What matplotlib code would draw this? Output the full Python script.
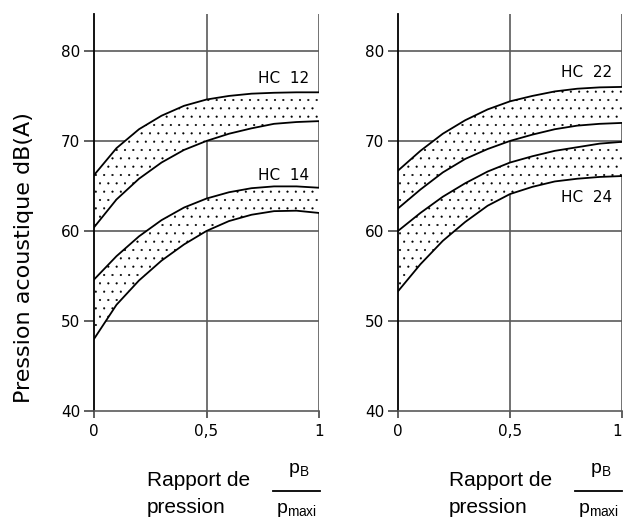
import matplotlib.pyplot as plt
from matplotlib.lines import Line2D

x = [0, 0.1, 0.2, 0.3, 0.4, 0.5, 0.6, 0.7, 0.8, 0.9, 1.0]

hc12_hi = [66.2, 69.2, 71.3, 72.8, 73.9, 74.6, 75.0, 75.25, 75.35, 75.4, 75.4]
hc12_lo = [60.4, 63.5, 65.8, 67.6, 69.0, 70.0, 70.8, 71.4, 71.9, 72.1, 72.2]
hc14_hi = [54.6, 57.2, 59.4, 61.2, 62.6, 63.6, 64.3, 64.75, 64.95, 64.95, 64.8]
hc14_lo = [48.0, 51.8, 54.5, 56.7, 58.5, 60.0, 61.1, 61.8, 62.2, 62.25, 62.0]

hc22_hi = [66.7, 68.9, 70.8, 72.3, 73.5, 74.4, 75.0, 75.5, 75.8, 75.95, 76.0]
hc22_lo = [62.5, 64.6, 66.5, 68.0, 69.1, 70.0, 70.7, 71.3, 71.7, 71.9, 72.0]
hc24_hi = [60.0, 62.0, 63.8, 65.3, 66.6, 67.6, 68.3, 68.9, 69.3, 69.7, 69.9]
hc24_lo = [53.3, 56.3, 58.9, 61.0, 62.8, 64.1, 64.9, 65.5, 65.8, 66.0, 66.1]

left_bands = [("HC  12", hc12_hi, hc12_lo, 76.9), ("HC  14", hc14_hi, hc14_lo, 66.2)]
right_bands = [("HC  22", hc22_hi, hc22_lo, 77.6), ("HC  24", hc24_hi, hc24_lo, 63.7)]

yticks = [40, 50, 60, 70, 80]
xticks = [0, 0.5, 1]
xticklabels = ["0", "0,5", "1"]

W, H = 625, 518
plt.rcParams["hatch.linewidth"] = 0.3
plt.rcParams["hatch.color"] = "black"

fig = plt.figure(figsize=(6.25, 5.18), dpi=100)
grid_col = "#5a5a5a"


def make_axes(left_px, right_px, bands):
    ax = fig.add_axes([left_px / W, 107 / H, (right_px - left_px) / W, 397 / H])
    ax.set_xlim(0, 1)
    ax.set_ylim(40, 84.1)
    for lab, hi, lo, ty in bands:
        ax.fill_between(x, lo, hi, facecolor="white", edgecolor="black",
                        hatch="..", linewidth=0)
        ax.plot(x, hi, color="black", lw=1.3)
        ax.plot(x, lo, color="black", lw=1.3)
        ax.text(0.955, ty, lab, ha="right", va="center", fontsize=11,
                family="DejaVu Sans")
    for v in yticks[1:]:
        ax.axhline(v, color=grid_col, lw=1.2, zorder=0.5)
    for v in xticks[1:]:
        ax.axvline(v, color=grid_col, lw=1.2, zorder=0.5)
    for s in ["top", "right"]:
        ax.spines[s].set_visible(False)
    ax.spines["left"].set_color("black")
    ax.spines["left"].set_linewidth(1.3)
    ax.spines["bottom"].set_color(grid_col)
    ax.spines["bottom"].set_linewidth(1.2)
    ax.set_yticks(yticks)
    ax.set_xticks(xticks)
    ax.set_xticklabels(xticklabels)
    ax.tick_params(axis="y", length=7, width=1.2, color="#444444", labelsize=11, pad=3)
    ax.tick_params(axis="x", length=5, width=1.2, color="#444444", labelsize=11, pad=4)
    return ax


ax1 = make_axes(94, 319, left_bands)
ax2 = make_axes(398, 622, right_bands)
ax2.get_xticklabels()[-1].set_horizontalalignment("right")
fig.text(24 / W, 1 - 258 / H, "Pression acoustique dB(A)", fontsize=16,
         family="DejaVu Sans", rotation=90, ha="center", va="center")


def xlabel(left_px, frac_l, frac_r):
    fig.text(left_px / W, 1 - 486 / H, "Rapport de", fontsize=15,
             family="Liberation Sans", va="baseline", ha="left")
    fig.text(left_px / W, 1 - 513 / H, "pression", fontsize=15,
             family="Liberation Sans", va="baseline", ha="left")
    mid = (frac_l + frac_r) / 2
    fig.text((mid + 2) / W, 1 - 473 / H, r"$\mathregular{p_B}$", fontsize=14,
             family="Liberation Sans", va="baseline", ha="center")
    fig.text(mid / W, 1 - 513 / H, r"$\mathregular{p_{maxi}}$", fontsize=14,
             family="Liberation Sans", va="baseline", ha="center")
    fig.add_artist(Line2D([frac_l / W, frac_r / W], [1 - 491 / H, 1 - 491 / H],
                          color="black", lw=1.3))


xlabel(147, 273, 320)
xlabel(449, 575, 622)

plt.savefig("out.png", dpi=100)
